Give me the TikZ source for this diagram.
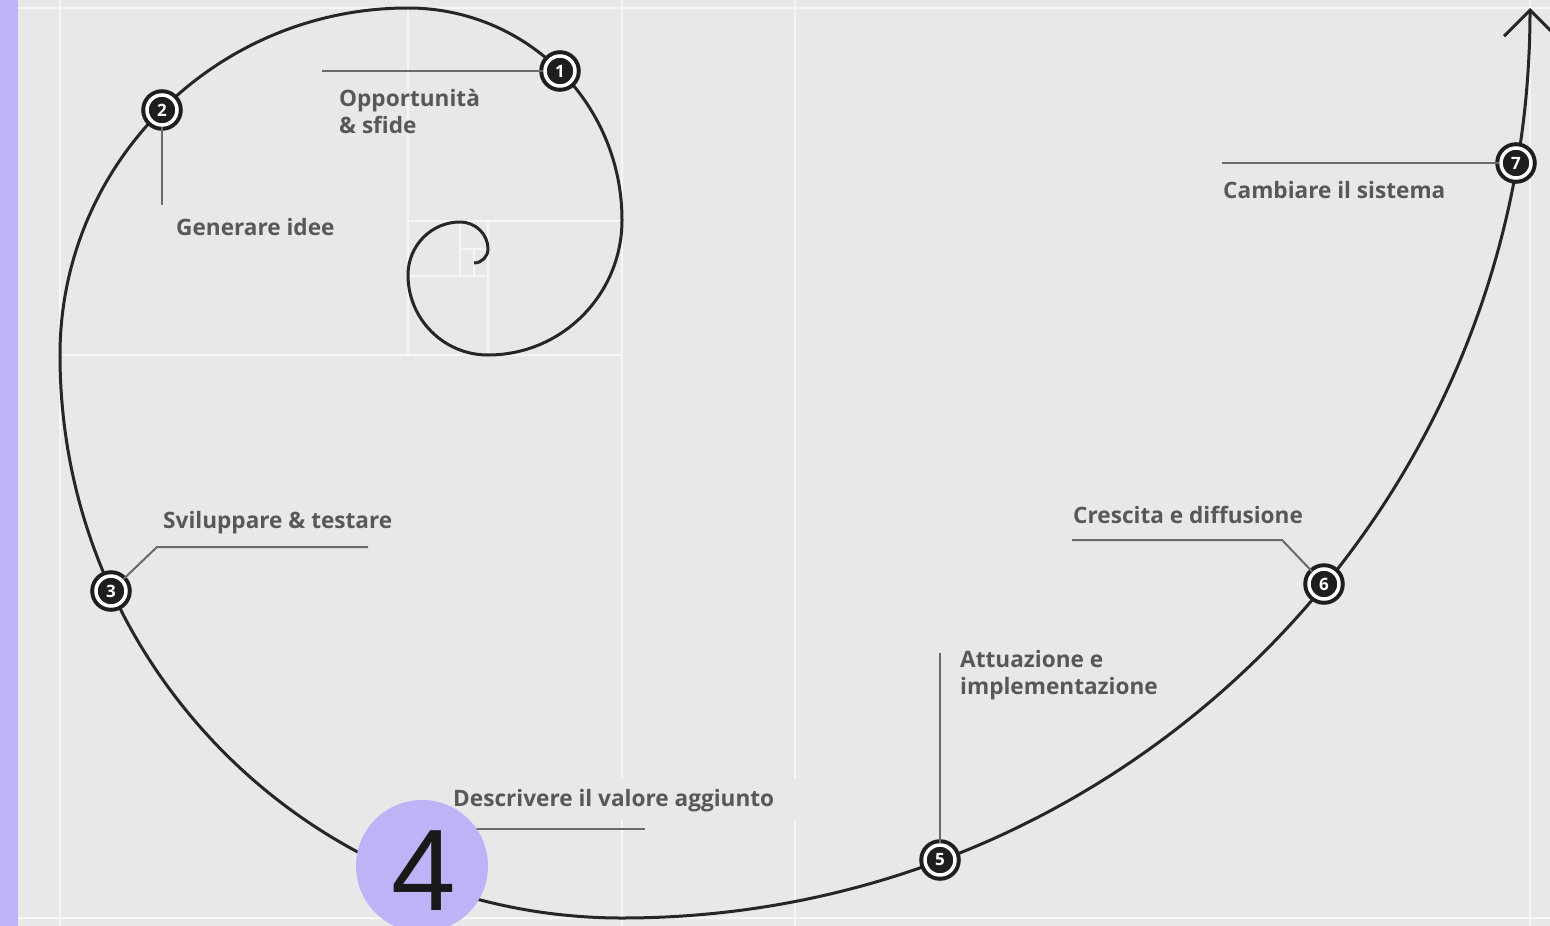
\documentclass[tikz,border=0pt]{standalone}
\usepackage{fontspec}
\setmainfont{Open Sans}
\newfontfamily\digitfont{Liberation Sans}
\usetikzlibrary{arrows.meta}
\definecolor{bgc}{HTML}{E8E8E8}
\definecolor{gridc}{HTML}{F6F6F6}
\definecolor{lilac}{HTML}{BDB4F8}
\definecolor{curvec}{HTML}{262626}
\definecolor{mk}{HTML}{1E1E1E}
\definecolor{leadc}{HTML}{6A6A6A}
\definecolor{txtc}{HTML}{585858}
\tikzset{
  gridline/.style={draw=gridc, line width=2pt},
  spiral/.style={draw=curvec, line width=3pt},
  leader/.style={draw=leadc, line width=2pt},
  marker/.style={circle, minimum size=30pt, inner sep=0pt, fill=mk, draw=mk,
    double=white, double distance=3.5pt, line width=4pt, text=white,
    font=\bfseries\fontsize{17}{17}\selectfont},
  lbl/.style={anchor=base west, inner sep=0pt, text=txtc, align=left,
    font=\bfseries\fontsize{22.6}{27}\selectfont}
}
\begin{document}
\begin{tikzpicture}[x=1pt,y=-1pt]
\useasboundingbox (0,0) rectangle (1550,926);
\fill[bgc] (0,0) rectangle (1550,926);
\fill[lilac] (0,0) rectangle (18,926);
% grid
\draw[gridline] (18,8) -- (1550,8);
\draw[gridline] (18,918) -- (1550,918);
\draw[gridline] (60,0) -- (60,926);
\draw[gridline] (622,0) -- (622,778);
\draw[gridline] (622,820) -- (622,926);
\draw[gridline] (795,0) -- (795,778);
\draw[gridline] (795,820) -- (795,926);
\draw[gridline] (1530,0) -- (1530,926);
\draw[gridline] (408,8) -- (408,355);
\draw[gridline] (60,355) -- (622,355);
\draw[gridline] (408,221) -- (622,221);
\draw[gridline] (488,221) -- (488,355);
\draw[gridline] (408,276) -- (488,276);
\draw[gridline] (460,221) -- (460,276);
\draw[gridline] (460,249) -- (488,249);
\draw[gridline] (474,249) -- (474,276);
% spiral
\coordinate (s0) at (474,263);
\coordinate (tip) at (1530,8);
\draw[spiral, -{Straight Barb[length=26pt,width=52pt,line width=3pt]}] (s0)
  .. controls (481.7,263) and (488,256.7) .. (488,249)
  .. controls (488,234.1) and (475.5,222) .. (460,222)
  .. controls (431.3,222) and (408,245.7) .. (408,275)
  .. controls (408,319.2) and (443.8,355) .. (488,355)
  .. controls (562,355) and (622,294.6) .. (622,220)
  .. controls (622,102.9) and (526.2,8) .. (408,8)
  .. controls (215.8,8) and (60,163.4) .. (60,355)
  .. controls (60,665.9) and (311.6,918) .. (622,918)
  .. controls (1123.5,918) and (1530,510.6) .. (tip);
% markers
\node[marker] (m1) at (560,71) {1};
\node[marker] (m2) at (162,110) {2};
\node[marker] (m3) at (111,591) {3};
\node[marker] (m5) at (940,860) {5};
\node[marker] (m6) at (1324,584) {6};
\node[marker] (m7) at (1516,163) {7};
% leader ends
\coordinate (e1) at (322,71);
\coordinate (e2) at (162,205);
\coordinate (k3) at (157,547);
\coordinate (e3) at (368,547);
\coordinate (e5) at (940,653);
\coordinate (k6) at (1282,540);
\coordinate (e6) at (1072,540);
\coordinate (e7) at (1222,163);
\coordinate (s4) at (470,829);
\coordinate (e4) at (645,829);
\draw[leader] (m1) -- (e1);
\draw[leader] (m2) -- (e2);
\draw[leader] (m3) -- (k3) -- (e3);
\draw[leader] (m5) -- (e5);
\draw[leader] (m6) -- (k6) -- (e6);
\draw[leader] (m7) -- (e7);
\draw[leader] (s4) -- (e4);
% step 4 badge
\node[circle, fill=lilac, minimum size=132pt, inner sep=0pt] (c4) at (422,866) {};
\node[anchor=base, inner sep=0pt, text=black!90, font=\digitfont\fontsize{116}{116}\selectfont] (n4) at (424,910) {4};
% labels
\node[lbl] (t1) at (339,133) {Opportunità\\\& sfide};
\node[lbl] (t2) at (176,235) {Generare idee};
\node[lbl] (t3) at (163,528) {Sviluppare \& testare};
\node[lbl] (t4) at (453,806) {Descrivere il valore aggiunto};
\node[lbl] (t5) at (960,694) {Attuazione e\\implementazione};
\node[lbl] (t6) at (1073,523) {Crescita e diffusione};
\node[lbl] (t7) at (1223,198) {Cambiare il sistema};
\end{tikzpicture}
\end{document}
